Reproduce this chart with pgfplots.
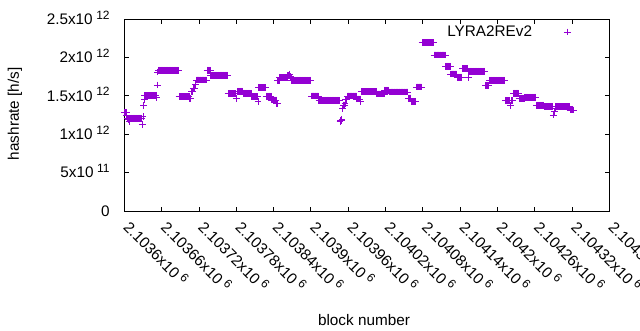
\documentclass[border=0pt]{standalone}
\usepackage{fontspec}
\setmainfont{Liberation Sans}
\usepackage{pgfplots}
\usepackage{pgfplotstable}
\pgfplotsset{compat=1.18}
\definecolor{gpviolet}{RGB}{148,0,211}
\newcommand{\sx}[1]{\hspace{3.5pt}\raisebox{5.2pt}[0pt][0pt]{\fontsize{12}{12}\selectfont #1}}
% o = block number - 2103600 ; v = hashrate in units of 10^12 h/s
\pgfplotstableread{
o v
0 1.285
1 1.285
2 1.285
3 1.285
4 1.25
5 1.21
6 1.19
7 1.20
8 1.17
9 1.207
10 1.207
11 1.207
12 1.207
13 1.207
14 1.207
15 1.207
16 1.207
17 1.207
18 1.207
19 1.207
20 1.207
21 1.207
22 1.207
23 1.207
24 1.207
25 1.207
26 1.207
27 1.207
28 1.207
29 1.13
30 1.23
31 1.37
32 1.45
33 1.505
34 1.505
35 1.505
36 1.505
37 1.505
38 1.505
39 1.505
40 1.505
41 1.505
42 1.505
43 1.505
44 1.505
45 1.505
46 1.505
47 1.505
48 1.505
49 1.505
50 1.505
51 1.505
52 1.475
53 1.64
54 1.81
55 1.832
56 1.832
57 1.832
58 1.832
59 1.832
60 1.832
61 1.832
62 1.832
63 1.832
64 1.832
65 1.832
66 1.832
67 1.832
68 1.832
69 1.832
70 1.832
71 1.832
72 1.832
73 1.832
74 1.832
75 1.832
76 1.832
77 1.832
78 1.832
79 1.832
80 1.832
81 1.832
82 1.832
83 1.832
84 1.832
85 1.832
86 1.832
87 1.832
88 1.488
89 1.488
90 1.488
91 1.488
92 1.488
93 1.488
94 1.488
95 1.488
96 1.488
97 1.488
98 1.488
99 1.488
100 1.488
101 1.488
102 1.488
103 1.488
104 1.488
105 1.46
106 1.46
107 1.46
108 1.56
109 1.56
110 1.56
111 1.60
112 1.60
113 1.60
114 1.65
115 1.65
116 1.706
117 1.706
118 1.706
119 1.706
120 1.706
121 1.706
122 1.706
123 1.706
124 1.706
125 1.706
126 1.706
127 1.706
128 1.706
129 1.706
130 1.706
131 1.706
132 1.706
133 1.832
134 1.832
135 1.832
136 1.832
137 1.832
138 1.832
139 1.767
140 1.767
141 1.767
142 1.767
143 1.767
144 1.767
145 1.767
146 1.767
147 1.767
148 1.767
149 1.767
150 1.767
151 1.767
152 1.767
153 1.767
154 1.767
155 1.767
156 1.767
157 1.767
158 1.767
159 1.767
160 1.767
161 1.767
162 1.767
163 1.767
164 1.767
165 1.767
166 1.767
167 1.53
168 1.53
169 1.53
170 1.53
171 1.53
172 1.53
173 1.53
174 1.53
175 1.53
176 1.53
177 1.53
178 1.53
179 1.53
180 1.467
181 1.467
182 1.558
183 1.558
184 1.558
185 1.558
186 1.558
187 1.558
188 1.558
189 1.558
190 1.558
191 1.532
192 1.532
193 1.532
194 1.532
195 1.532
196 1.532
197 1.532
198 1.532
199 1.532
200 1.532
201 1.532
202 1.532
203 1.532
204 1.532
205 1.488
206 1.488
207 1.488
208 1.488
209 1.488
210 1.488
211 1.488
212 1.488
213 1.488
214 1.488
215 1.43
216 1.608
217 1.608
218 1.608
219 1.608
220 1.608
221 1.608
222 1.608
223 1.608
224 1.608
225 1.608
226 1.608
227 1.608
228 1.493
229 1.493
230 1.493
231 1.493
232 1.493
233 1.493
234 1.493
235 1.493
236 1.493
237 1.445
238 1.445
239 1.445
240 1.445
241 1.445
242 1.445
243 1.445
244 1.445
245 1.40
246 1.40
247 1.70
248 1.70
249 1.70
250 1.736
251 1.736
252 1.736
253 1.736
254 1.736
255 1.736
256 1.736
257 1.736
258 1.736
259 1.736
260 1.736
261 1.736
262 1.736
263 1.76
264 1.76
265 1.76
266 1.784
267 1.75
268 1.75
269 1.701
270 1.701
271 1.701
272 1.701
273 1.701
274 1.701
275 1.701
276 1.701
277 1.701
278 1.701
279 1.701
280 1.701
281 1.701
282 1.701
283 1.701
284 1.701
285 1.701
286 1.701
287 1.701
288 1.701
289 1.701
290 1.701
291 1.701
292 1.701
293 1.701
294 1.701
295 1.701
296 1.701
297 1.701
298 1.701
299 1.701
300 1.701
301 1.497
302 1.497
303 1.497
304 1.497
305 1.497
306 1.497
307 1.497
308 1.497
309 1.497
310 1.497
311 1.497
312 1.497
313 1.441
314 1.441
315 1.441
316 1.441
317 1.441
318 1.441
319 1.441
320 1.441
321 1.441
322 1.441
323 1.441
324 1.441
325 1.441
326 1.441
327 1.441
328 1.441
329 1.441
330 1.441
331 1.441
332 1.441
333 1.441
334 1.441
335 1.441
336 1.441
337 1.441
338 1.441
339 1.441
340 1.441
341 1.441
342 1.441
343 1.441
344 1.441
345 1.441
346 1.441
347 1.163
348 1.18
349 1.18
350 1.194
351 1.337
352 1.38
353 1.38
354 1.38
355 1.402
356 1.45
357 1.45
358 1.45
359 1.497
360 1.497
361 1.497
362 1.497
363 1.497
364 1.497
365 1.497
366 1.497
367 1.497
368 1.497
369 1.497
370 1.497
371 1.497
372 1.497
373 1.497
374 1.458
375 1.458
376 1.458
377 1.458
378 1.458
379 1.458
380 1.42
381 1.553
382 1.553
383 1.553
384 1.553
385 1.553
386 1.553
387 1.553
388 1.553
389 1.553
390 1.553
391 1.553
392 1.553
393 1.553
394 1.553
395 1.553
396 1.553
397 1.553
398 1.553
399 1.553
400 1.553
401 1.553
402 1.553
403 1.553
404 1.553
405 1.553
406 1.523
407 1.523
408 1.523
409 1.523
410 1.523
411 1.523
412 1.523
413 1.523
414 1.523
415 1.523
416 1.523
417 1.523
418 1.523
419 1.571
420 1.571
421 1.571
422 1.571
423 1.571
424 1.571
425 1.571
426 1.549
427 1.549
428 1.549
429 1.549
430 1.549
431 1.549
432 1.549
433 1.549
434 1.549
435 1.549
436 1.549
437 1.549
438 1.549
439 1.549
440 1.549
441 1.549
442 1.549
443 1.549
444 1.549
445 1.549
446 1.549
447 1.549
448 1.549
449 1.549
450 1.549
451 1.549
452 1.549
453 1.549
454 1.549
455 1.549
456 1.549
457 1.47
458 1.47
459 1.47
460 1.47
461 1.47
462 1.424
463 1.424
464 1.424
465 1.424
466 1.424
467 1.424
468 1.424
469 1.424
470 1.615
471 1.615
472 1.615
473 1.615
474 1.615
475 1.615
476 1.615
477 1.615
478 1.615
479 2.19
480 2.19
481 2.19
482 2.19
483 2.19
484 2.19
485 2.19
486 2.19
487 2.19
488 2.19
489 2.19
490 2.19
491 2.19
492 2.19
493 2.19
494 2.19
495 2.19
496 2.19
497 2.19
498 2.03
499 2.03
500 2.03
501 2.03
502 2.03
503 2.03
504 2.03
505 2.03
506 2.03
507 2.03
508 2.03
509 2.03
510 2.03
511 2.03
512 2.03
513 2.03
514 2.03
515 2.03
516 2.03
517 1.884
518 1.884
519 1.884
520 1.884
521 1.884
522 1.884
523 1.884
524 1.884
525 1.784
526 1.784
527 1.784
528 1.784
529 1.784
530 1.784
531 1.784
532 1.784
533 1.784
534 1.784
535 1.741
536 1.741
537 1.741
538 1.741
539 1.741
540 1.741
541 1.741
542 1.741
543 1.741
544 1.855
545 1.855
546 1.855
547 1.855
548 1.855
549 1.855
550 1.855
551 1.855
552 1.855
553 1.74
554 1.82
555 1.82
556 1.82
557 1.82
558 1.82
559 1.82
560 1.82
561 1.82
562 1.82
563 1.82
564 1.82
565 1.82
566 1.82
567 1.82
568 1.82
569 1.82
570 1.82
571 1.82
572 1.82
573 1.82
574 1.82
575 1.82
576 1.82
577 1.82
578 1.82
579 1.82
580 1.82
581 1.636
582 1.636
583 1.636
584 1.636
585 1.636
586 1.636
587 1.701
588 1.701
589 1.701
590 1.701
591 1.701
592 1.701
593 1.701
594 1.701
595 1.701
596 1.701
597 1.701
598 1.701
599 1.701
600 1.701
601 1.701
602 1.701
603 1.701
604 1.701
605 1.701
606 1.701
607 1.701
608 1.701
609 1.701
610 1.701
611 1.701
612 1.701
613 1.44
614 1.44
615 1.44
616 1.44
617 1.44
618 1.44
619 1.44
620 1.44
621 1.37
622 1.44
623 1.44
624 1.44
625 1.44
626 1.532
627 1.532
628 1.532
629 1.532
630 1.532
631 1.532
632 1.532
633 1.532
634 1.532
635 1.467
636 1.467
637 1.467
638 1.467
639 1.467
640 1.467
641 1.467
642 1.467
643 1.467
644 1.48
645 1.48
646 1.48
647 1.48
648 1.48
649 1.48
650 1.48
651 1.48
652 1.48
653 1.48
654 1.48
655 1.48
656 1.48
657 1.48
658 1.48
659 1.48
660 1.48
661 1.48
662 1.48
663 1.37
664 1.37
665 1.376
666 1.376
667 1.376
668 1.376
669 1.376
670 1.376
671 1.376
672 1.376
673 1.376
674 1.376
675 1.358
676 1.358
677 1.358
678 1.358
679 1.358
680 1.358
681 1.358
682 1.358
683 1.358
684 1.358
685 1.358
686 1.358
687 1.358
688 1.358
689 1.358
690 1.25
691 1.30
692 1.30
693 1.33
694 1.362
695 1.362
696 1.362
697 1.362
698 1.362
699 1.362
700 1.362
701 1.362
702 1.362
703 1.362
704 1.362
705 1.362
706 1.362
707 1.362
708 1.362
709 1.362
710 1.362
711 1.362
712 1.362
713 1.362
714 1.362
715 1.362
716 1.362
717 1.315
718 1.315
719 1.315
720 1.315
721 1.315
722 1.315
723 1.315
}\hashdata
\begin{document}
\begin{tikzpicture}
\useasboundingbox (0,0) rectangle (640pt,330pt);
\begin{axis}[
  at={(124.3pt,119pt)}, anchor=south west,
  scale only axis, width=485pt, height=192pt,
  xmin=0, xmax=780, ymin=0, ymax=2.5,
  xtick={0,60,...,780},
  xticklabels={2.1036x10\sx{6},2.10366x10\sx{6},2.10372x10\sx{6},2.10378x10\sx{6},2.10384x10\sx{6},2.1039x10\sx{6},2.10396x10\sx{6},2.10402x10\sx{6},2.10408x10\sx{6},2.10414x10\sx{6},2.1042x10\sx{6},2.10426x10\sx{6},2.10432x10\sx{6},2.10438x10\sx{6}},
  ytick={0,0.5,1,1.5,2,2.5},
  yticklabels={0,5x10\sx{11},1x10\sx{12},1.5x10\sx{12},2x10\sx{12},2.5x10\sx{12}},
  tick align=inside, tick pos=both,
  major tick length=4.5pt,
  every tick/.style={black, line width=0.8pt},
  axis line style={black, line width=0.8pt},
  tick label style={font=\fontsize{15.3}{17}\selectfont, inner sep=0pt},
  xticklabel style={xshift=6pt, rotate=-45, anchor=north west},
  xticklabel shift=10pt,
  yticklabel style={anchor=east},
  yticklabel shift=14.5pt,
  label style={font=\fontsize{15.3}{17}\selectfont},
  xlabel={block number},
  xlabel style={at={(axis description cs:0.4942,-0.5656)}, anchor=center},
  ylabel={hashrate [h/s]},
  ylabel style={at={(axis description cs:-0.2254,0.5068)}, anchor=center},
  legend plot pos=right,
  legend style={draw=none, fill=none, font=\fontsize{15.3}{17}\selectfont,
    at={(rel axis cs:0.9212,0.932)}, anchor=east, inner sep=0pt,
    nodes={inner sep=0pt}},
  legend image code/.code={\path (-35pt,0pt) (3.4pt,0pt); \draw[#1] plot coordinates {(0pt,0pt)};},
]
\addplot[only marks, mark=+, color=gpviolet, mark size=3.4pt, mark options={line width=0.9pt}] table[x=o, y=v] {\hashdata};
\addlegendentry{LYRA2REv2}
\end{axis}
\end{tikzpicture}
\end{document}
